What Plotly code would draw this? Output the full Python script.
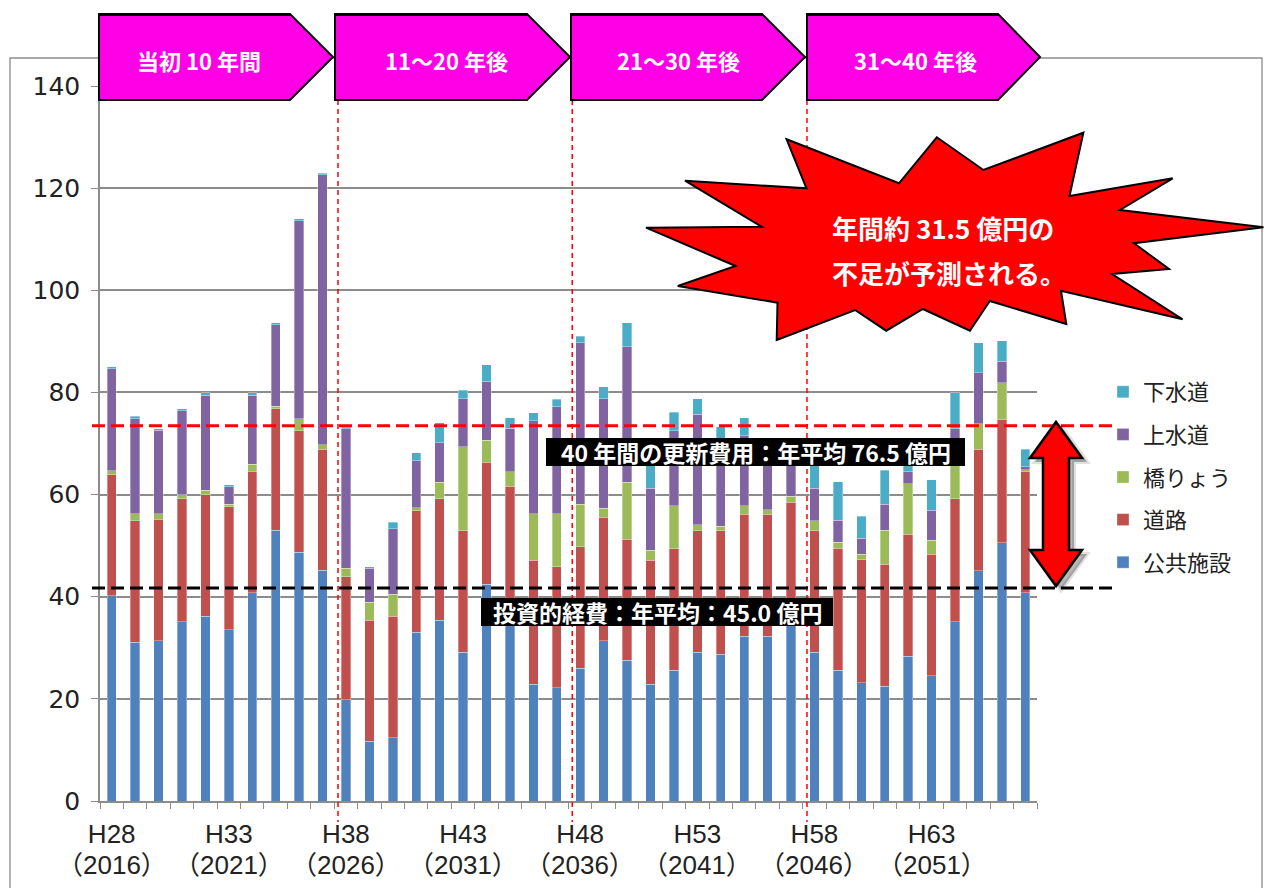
import plotly.graph_objects as go

# ---------------- data (億円) ----------------
categories = ["H28", "H29", "H30", "H31", "H32", "H33", "H34", "H35", "H36", "H37",
              "H38", "H39", "H40", "H41", "H42", "H43", "H44", "H45", "H46", "H47",
              "H48", "H49", "H50", "H51", "H52", "H53", "H54", "H55", "H56", "H57",
              "H58", "H59", "H60", "H61", "H62", "H63", "H64", "H65", "H66", "H67"]
label_years = {"H28": "2016", "H33": "2021", "H38": "2026", "H43": "2031",
               "H48": "2036", "H53": "2041", "H58": "2046", "H63": "2051"}

public_facilities = [40.2, 31.1, 31.4, 35.1, 36.2, 33.5, 40.8, 53.0, 48.7, 45.2,
                     19.8, 11.7, 12.4, 33.0, 35.4, 29.1, 42.4, 37.8, 22.9, 22.2,
                     26.0, 31.4, 27.6, 22.9, 25.6, 29.1, 28.7, 32.3, 32.3, 34.7,
                     29.1, 25.6, 23.2, 22.5, 28.3, 24.5, 35.1, 45.1, 50.6, 40.8]
roads = [23.7, 23.8, 23.8, 24.1, 23.8, 24.1, 23.8, 23.8, 23.8, 23.7,
         24.1, 23.7, 23.8, 23.8, 23.8, 23.8, 23.9, 23.8, 24.2, 23.7,
         23.8, 24.2, 23.7, 24.2, 23.8, 23.8, 24.2, 23.8, 23.8, 23.8,
         23.8, 23.9, 24.0, 23.9, 23.9, 23.8, 24.1, 23.8, 24.1, 23.8]
bridges = [0.8, 1.3, 1.0, 0.8, 0.8, 0.5, 1.3, 0.5, 2.3, 0.9,
           1.7, 3.5, 4.3, 0.6, 3.2, 16.5, 4.3, 2.9, 9.1, 10.3,
           8.3, 1.7, 11.1, 2.0, 8.4, 1.2, 0.9, 1.7, 0.9, 1.2,
           2.0, 1.2, 1.1, 6.6, 9.9, 2.8, 7.8, 5.0, 7.2, 0.3]
water_supply = [19.9, 18.6, 16.4, 16.4, 18.6, 3.4, 13.5, 16.0, 38.8, 52.8,
                27.3, 6.7, 12.8, 9.2, 7.7, 9.4, 11.6, 8.5, 18.3, 21.0,
                31.6, 21.5, 26.5, 12.1, 14.7, 21.6, 17.2, 13.7, 12.5, 9.0,
                6.3, 4.3, 3.1, 5.1, 2.4, 5.8, 5.9, 10.0, 4.2, 0.5]
sewerage = [0.4, 0.5, 0.3, 0.4, 0.5, 0.4, 0.5, 0.3, 0.4, 0.3,
            0.3, 0.3, 1.3, 1.6, 4.0, 1.6, 3.2, 2.0, 1.5, 1.5,
            1.3, 2.3, 4.7, 4.6, 3.6, 3.1, 2.3, 3.5, 1.0, 1.3,
            5.8, 7.5, 4.4, 6.7, 2.0, 6.0, 7.0, 5.8, 4.0, 3.5]

series_names = ["公共施設", "道路", "橋りょう", "上水道", "下水道"]
series_values = [public_facilities, roads, bridges, water_supply, sewerage]
series_colors = ["#4F81BD", "#C0504D", "#9BBB59", "#8064A2", "#4BACC6"]

renewal_avg_level = 73.5      # drawn position of the "76.5 億円" line
investment_avg_level = 41.7   # drawn position of the "45.0 億円" line
period_bounds = [9.66, 19.66, 29.68]
period_labels = ["当初 10 年間", "11～20 年後", "21～30 年後", "31～40 年後"]
renewal_text = "40 年間の更新費用：年平均 76.5 億円"
investment_text = "投資的経費：年平均：45.0 億円"
shortage_text = ["年間約 31.5 億円の", "不足が予測される。"]

# ---------------- layout geometry ----------------
W, H = 1264, 888
L, R, T, B = 100, 1037, 86, 801


def px(x):
    return (x - L) / (R - L)


def py(y):
    return (B - y) / (B - T)


def path(points):
    return "M " + " L ".join(f"{px(x):.5f},{py(y):.5f}" for x, y in points) + " Z"


CJK = "Noto Sans CJK JP"
TICKFONT = "Liberation Sans, Noto Sans CJK JP"
GRID = "#8C8C8C"

fig = go.Figure()
n = len(series_names)
for i, (name, vals, col) in enumerate(zip(series_names, series_values, series_colors)):
    fig.add_trace(go.Bar(
        x=categories, y=vals, name=name, legendgroup=name, legendrank=n - i,
        marker=dict(color=col, line=dict(color="rgba(255,255,255,0.55)", width=0.6)),
        hoverinfo="skip",
    ))

ticktext = [c if c in label_years else "" for c in categories]

shapes = []
# outer chart frame
shapes.append(dict(type="rect", xref="paper", yref="paper",
                   x0=px(10), x1=px(1262), y0=py(58), y1=py(895),
                   line=dict(color=GRID, width=1.3), layer="below"))
# period boundary lines
for b in period_bounds:
    shapes.append(dict(type="line", xref="x", yref="paper", x0=b, x1=b,
                       y0=py(100), y1=py(822),
                       line=dict(color="#FF0000", width=1.5, dash="5px,4px")))
# average lines
shapes.append(dict(type="line", xref="paper", yref="y", x0=px(92), x1=px(1116),
                   y0=renewal_avg_level, y1=renewal_avg_level,
                   line=dict(color="#FF0000", width=3, dash="13px,6px")))
shapes.append(dict(type="line", xref="paper", yref="y", x0=px(92), x1=px(1116),
                   y0=investment_avg_level, y1=investment_avg_level,
                   line=dict(color="#000000", width=3, dash="13px,6px")))

# label boxes
shapes.append(dict(type="rect", xref="paper", yref="paper",
                   x0=px(546), x1=px(965), y0=py(438), y1=py(466),
                   fillcolor="#000000", line=dict(width=0)))
shapes.append(dict(type="rect", xref="paper", yref="paper",
                   x0=px(481), x1=px(833), y0=py(598), y1=py(626),
                   fillcolor="#000000", line=dict(width=0)))

# banners
banner_geo = [(99, 290, 333), (335, 527, 570), (571, 762, 805), (807, 998, 1040)]
for x0, xb, xt in banner_geo:
    shapes.append(dict(type="path", xref="paper", yref="paper",
                       path=path([(x0, 14), (xb, 14), (xt, 57), (xb, 100), (x0, 100)]),
                       fillcolor="#FF00E6", line=dict(color="#000000", width=2)))
    shapes.append(dict(type="line", xref="paper", yref="paper",
                       x0=px(x0), x1=px(xb), y0=py(14.5), y1=py(14.5),
                       line=dict(color="#000000", width=3)))

# explosion star
star = [(786.6, 139.3), (899, 183.3), (936.8, 137.3), (983.4, 170), (1083.4, 132.7),
        (1069.5, 196), (1172.7, 178.3), (1120, 210), (1263.5, 227.3), (1134, 243.3),
        (1169, 269), (1112, 274), (1182.6, 319.3), (1061, 290.7), (1066.3, 324),
        (989.8, 301), (969.9, 330.7), (922.9, 309), (886.2, 330.7), (855.1, 310),
        (776.7, 340), (777.5, 302.7), (677.8, 286), (735.6, 266), (646, 227.7),
        (761.5, 226.7), (685, 180.7), (806.5, 188.3)]
shapes.append(dict(type="path", xref="paper", yref="paper", path=path(star),
                   fillcolor="#FF0000", line=dict(color="#000000", width=2)))

# double arrow (with shadow)
arrow = [(1056, 422), (1082, 458), (1069, 458), (1069, 550), (1082, 550),
         (1056, 586), (1030, 550), (1043, 550), (1043, 458), (1030, 458)]
shadow = [(x + 5, y + 4) for x, y in arrow]
shapes.append(dict(type="path", xref="paper", yref="paper", path=path(shadow),
                   fillcolor="rgba(0,0,0,0.28)", line=dict(color="rgba(0,0,0,0.12)", width=4)))
shapes.append(dict(type="path", xref="paper", yref="paper", path=path(arrow),
                   fillcolor="#FF0000", line=dict(color="#000000", width=2.5)))

annotations = []
for lab, cx in zip(period_labels, [199, 446, 678, 915]):
    annotations.append(dict(xref="paper", yref="paper", x=px(cx), y=py(60),
                            xanchor="center", yanchor="middle",
                            text=f"<b>{lab}</b>", showarrow=False,
                            font=dict(family=CJK, size=22, color="white")))
for line_text, cy in zip(shortage_text, [227, 272]):
    annotations.append(dict(xref="paper", yref="paper", x=px(830), y=py(cy),
                            xanchor="left", yanchor="middle",
                            text=f"<b>{line_text}</b>", showarrow=False,
                            font=dict(family=CJK, size=26, color="white")))
annotations.append(dict(xref="paper", yref="paper", x=px(755.5), y=py(452),
                        xanchor="center", yanchor="middle",
                        text=f"<b>{renewal_text}</b>", showarrow=False,
                        font=dict(family=CJK, size=23, color="white")))
annotations.append(dict(xref="paper", yref="paper", x=px(657), y=py(612),
                        xanchor="center", yanchor="middle",
                        text=f"<b>{investment_text}</b>", showarrow=False,
                        font=dict(family=CJK, size=23, color="white")))
# second row of x labels (western years)
for c in categories:
    if c in label_years:
        annotations.append(dict(xref="x", yref="paper", x=c, y=py(865),
                                xanchor="center", yanchor="middle",
                                text=f"（{label_years[c]}）", showarrow=False,
                                font=dict(family=TICKFONT, size=26, color="#222222")))

fig.update_layout(
    width=W, height=H, autosize=False,
    margin=dict(l=L, r=W - R, t=T, b=H - B),
    paper_bgcolor="white", plot_bgcolor="white",
    barmode="stack", bargap=0.6,
    showlegend=True,
    legend=dict(x=px(1103), y=py(371), xanchor="left", yanchor="top",
                traceorder="grouped", tracegroupgap=11,
                font=dict(family=CJK, size=22, color="#222222"),
                bgcolor="rgba(0,0,0,0)"),
    xaxis=dict(type="category", range=[-0.5, 39.5], tickmode="array",
               tickvals=categories, ticktext=ticktext, tickson="boundaries",
               ticks="outside", ticklen=6, tickcolor=GRID, tickwidth=1.3,
               ticklabelstandoff=9,
               showline=True, linecolor=GRID, linewidth=1.5, showgrid=False,
               tickangle=0, tickfont=dict(family=TICKFONT, size=26, color="#222222")),
    yaxis=dict(range=[0, 140], tickvals=[0, 20, 40, 60, 80, 100, 120, 140],
               ticks="outside", ticklen=7, tickcolor=GRID, tickwidth=1.3,
               ticklabelstandoff=6,
               showline=True, linecolor=GRID, linewidth=1.5,
               showgrid=True, gridcolor=GRID, gridwidth=1.5, zeroline=False,
               tickfont=dict(family="DejaVu Sans", size=25, color="#222222")),
    shapes=shapes, annotations=annotations,
)

fig.write_html("out.html")
